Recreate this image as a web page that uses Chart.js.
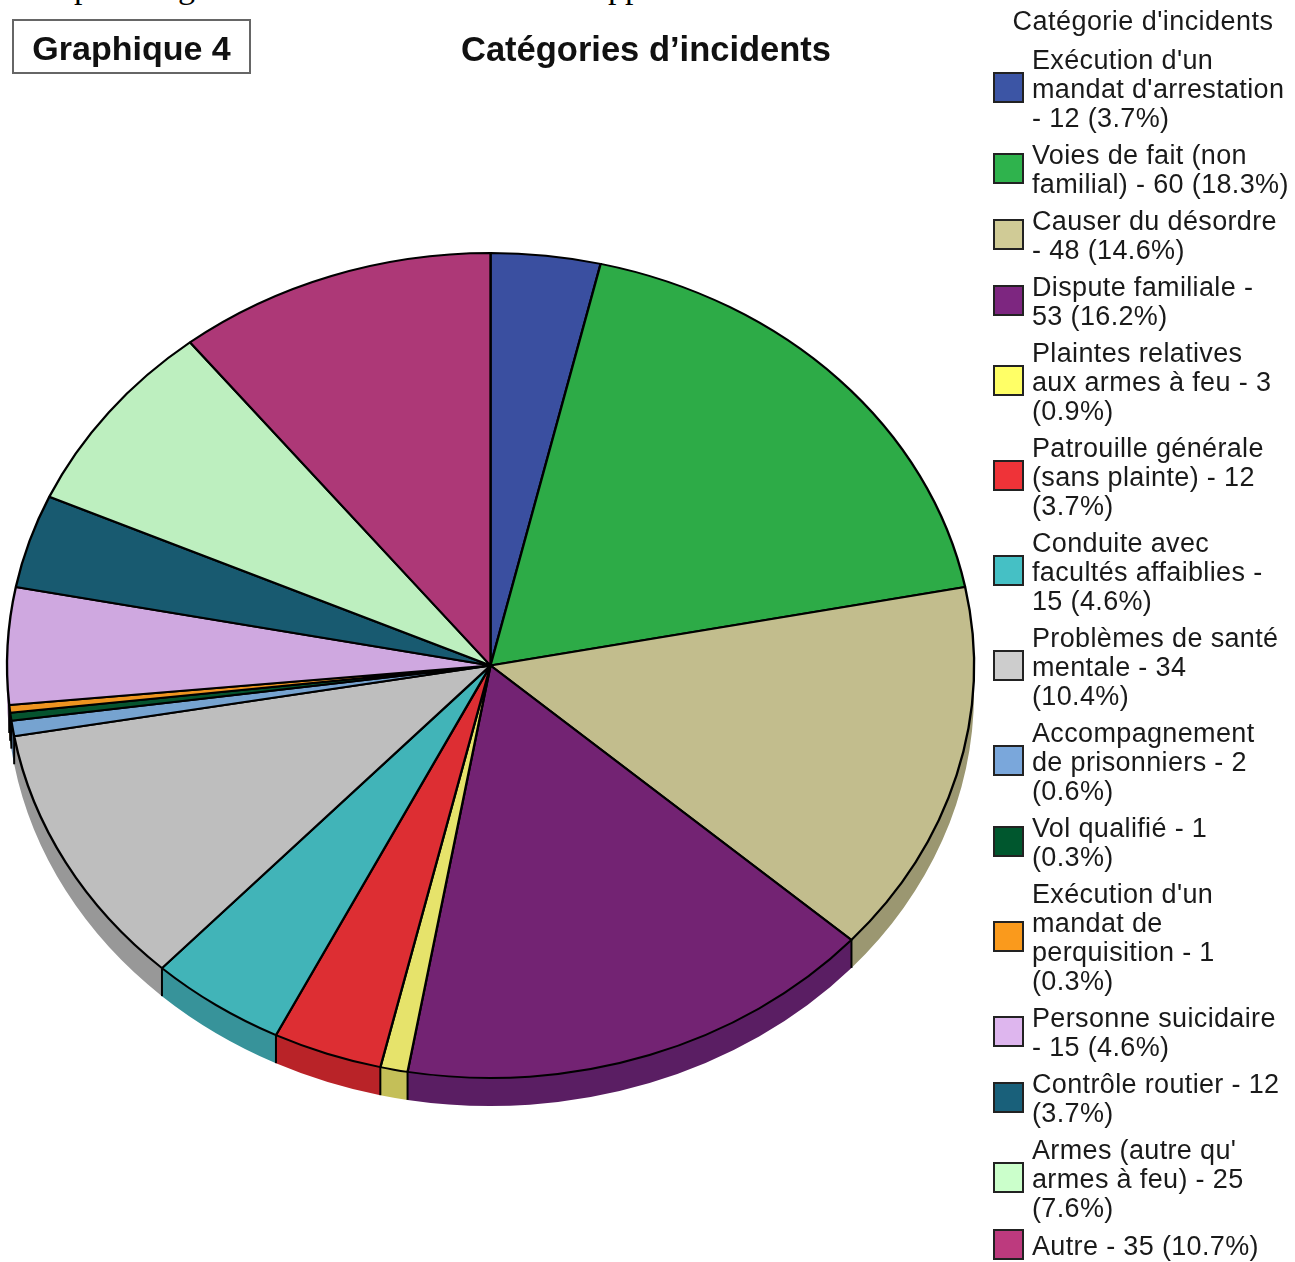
<!DOCTYPE html>
<html lang="fr">
<head>
<meta charset="utf-8">
<title>Catégories d'incidents</title>
<script src="https://cdn.jsdelivr.net/npm/chart.js@4"></script>
<style>
  html, body { margin: 0; background: #fff; }
  #page { position: relative; width: 1295px; height: 1262px; overflow: hidden; font-family: "Liberation Sans", Arial, sans-serif; color: #1a1a1a; }
  #pieChart { position: absolute; left: 0; top: 0; }
  .cut { position: absolute; top: -31px; font: 34px/36px "Liberation Serif", serif; color: #000; }
  #badge { position: absolute; left: 12px; top: 19px; width: 235px; height: 51px; border: 2px solid #666; font-size: 34px; font-weight: bold; line-height: 55px; text-align: center; color: #111; }
  #title { position: absolute; left: 0; width: 1292px; top: 27px; font-size: 34.5px; font-weight: bold; line-height: 44px; text-align: center; color: #111; }
  #legendTitle { position: absolute; left: 985px; width: 316px; top: 5px; font-size: 27px; line-height: 32px; text-align: center; letter-spacing: 0.45px; }
  #legend { position: absolute; left: 993px; top: 46px; width: 302px; }
  .row { display: flex; align-items: center; margin-bottom: 8px; }
  .swatch { flex: none; width: 27px; height: 27px; border: 2px solid #222; margin-right: 8px; transform: translateY(-2px); }
  .label { white-space: pre; font-size: 27px; line-height: 29px; letter-spacing: 0.35px; }
</style>
</head>
<body>
<div id="page">
  <span class="cut" style="left:74px">p</span>
  <span class="cut" style="left:178px">g</span>
  <span class="cut" style="left:608px">pp</span>
  <canvas id="pieChart" width="1295" height="1262"></canvas>
  <div id="badge">Graphique 4</div>
  <div id="title">Catégories d’incidents</div>
  <div id="legendTitle">Catégorie d'incidents</div>
  <div id="legend"></div>
</div>
<script>
const categories = [
  "Exécution d'un mandat d'arrestation",
  'Voies de fait (non familial)',
  'Causer du désordre',
  'Dispute familiale',
  'Plaintes relatives aux armes à feu',
  'Patrouille générale (sans plainte)',
  'Conduite avec facultés affaiblies',
  'Problèmes de santé mentale',
  'Accompagnement de prisonniers',
  'Vol qualifié',
  "Exécution d'un mandat de perquisition",
  'Personne suicidaire',
  'Contrôle routier',
  "Armes (autre qu' armes à feu)",
  'Autre',
];
const counts = [12, 60, 48, 53, 3, 12, 15, 34, 2, 1, 1, 15, 12, 25, 35];
const legendLabels = [
  "Exécution d'un\nmandat d'arrestation\n- 12 (3.7%)",
  'Voies de fait (non\nfamilial) - 60 (18.3%)',
  'Causer du désordre\n- 48 (14.6%)',
  'Dispute familiale -\n53 (16.2%)',
  'Plaintes relatives\naux armes à feu - 3\n(0.9%)',
  'Patrouille générale\n(sans plainte) - 12\n(3.7%)',
  'Conduite avec\nfacultés affaiblies -\n15 (4.6%)',
  'Problèmes de santé\nmentale - 34\n(10.4%)',
  'Accompagnement\nde prisonniers - 2\n(0.6%)',
  'Vol qualifié - 1\n(0.3%)',
  "Exécution d'un\nmandat de\nperquisition - 1\n(0.3%)",
  'Personne suicidaire\n- 15 (4.6%)',
  'Contrôle routier - 12\n(3.7%)',
  "Armes (autre qu'\narmes à feu) - 25\n(7.6%)",
  'Autre - 35 (10.7%)',
];
const sliceColors = ['#3a4fa0', '#2dab47', '#c2bd8d', '#732373', '#e6e36b', '#dd2e33', '#41b4b8', '#bebebe', '#76a3d0', '#05532e', '#ee9420', '#cfa8e0', '#185a70', '#bdefbf', '#ad3877'];
const wallColors = ['#2e3f80', '#248939', '#9b9771', '#5a1e63', '#c4bf58', '#b92328', '#37939a', '#989898', '#5e82a6', '#044225', '#be761a', '#a686b3', '#13485a', '#97bf99', '#8a2d5f'];
const swatchColors = ['#3c55a5', '#2fb34d', '#d0cb96', '#7d2680', '#ffff66', '#ef3338', '#45c0c5', '#cdcdcd', '#7aa7db', '#00572e', '#fa9a1c', '#deb6ee', '#19607a', '#cbffcb', '#bd3a7e'];

const pieStretch = 483.5 / 412.5;
const wallDepth = 28;

// the library only draws round pies, so squash the context and add the side wall
const tiltedPie = {
  id: 'tiltedPie',
  beforeDatasetsDraw(chart) {
    const ctx = chart.ctx;
    const arcs = chart.getDatasetMeta(0).data;
    const { x, y, outerRadius } = arcs[0].getProps(['x', 'y', 'outerRadius'], true);
    const rx = outerRadius * pieStretch;
    const ry = outerRadius;

    arcs.forEach((arc, i) => {
      const { startAngle, endAngle } = arc.getProps(['startAngle', 'endAngle'], true);
      const a0 = Math.max(startAngle, 0);
      const a1 = Math.min(endAngle, Math.PI);
      if (a1 <= a0) return;
      ctx.beginPath();
      ctx.ellipse(x, y, rx, ry, 0, a0, a1);
      ctx.ellipse(x, y + wallDepth, rx, ry, 0, a1, a0, true);
      ctx.closePath();
      ctx.fillStyle = wallColors[i];
      ctx.fill();
    });

    ctx.strokeStyle = '#000';
    ctx.lineWidth = 2;
    arcs.forEach(arc => {
      const { endAngle } = arc.getProps(['endAngle'], true);
      if (endAngle < 0 || endAngle > Math.PI) return;
      const px = x + rx * Math.cos(endAngle);
      const py = y + ry * Math.sin(endAngle);
      ctx.beginPath();
      ctx.moveTo(px, py);
      ctx.lineTo(px, py + wallDepth);
      ctx.stroke();
    });

    ctx.save();
    ctx.translate(x, 0);
    ctx.scale(pieStretch, 1);
    ctx.translate(-x, 0);
  },
  afterDatasetsDraw(chart) {
    chart.ctx.restore();
  },
};

new Chart(document.getElementById('pieChart'), {
  type: 'pie',
  data: {
    labels: categories,
    datasets: [{
      data: counts,
      backgroundColor: sliceColors,
      borderColor: '#000',
      borderWidth: 2,
      clip: false,
    }],
  },
  options: {
    responsive: false,
    animation: false,
    events: [],
    layout: { padding: { left: 77, right: 391, top: 252, bottom: 183 } },
    plugins: { legend: { display: false }, tooltip: { enabled: false } },
  },
  plugins: [tiltedPie],
});

const legend = document.getElementById('legend');
legendLabels.forEach((text, i) => {
  const row = document.createElement('div');
  row.className = 'row';
  const swatch = document.createElement('div');
  swatch.className = 'swatch';
  swatch.style.background = swatchColors[i];
  const label = document.createElement('div');
  label.className = 'label';
  label.textContent = text;
  row.append(swatch, label);
  legend.append(row);
});
</script>
</body>
</html>
